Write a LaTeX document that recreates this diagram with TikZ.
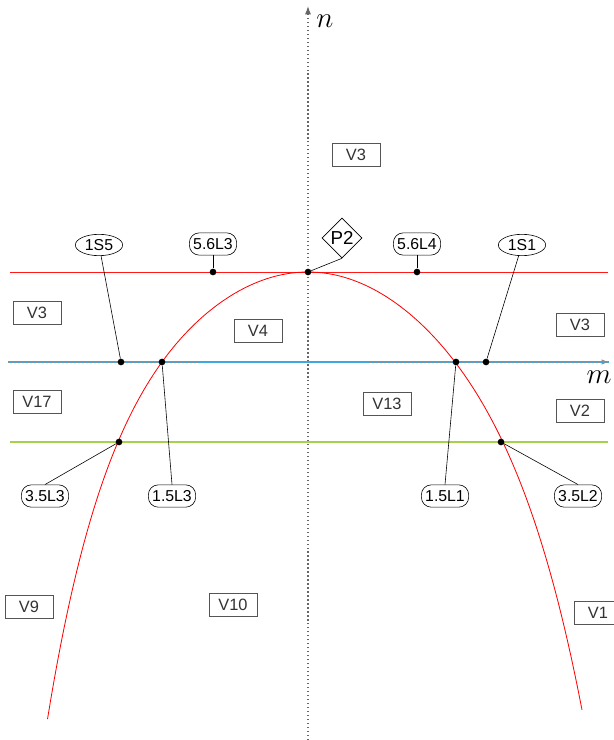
\documentclass[tikz,border=0pt]{standalone}
\usepackage{fontspec}
\setmainfont{Liberation Sans}
\usetikzlibrary{shapes.geometric,arrows.meta}
\definecolor{lineblue}{HTML}{3DA9E0}
\definecolor{linegreen}{HTML}{A8D04A}
\definecolor{boxgray}{HTML}{555555}

\begin{document}
\begin{tikzpicture}[x=0.03cm,y=-0.03cm,
  region/.style={draw=boxgray,line width=0.6pt,minimum width=1.44cm,minimum height=0.68cm,inner sep=0pt,text=black!80,font=\fontsize{14}{14}\selectfont},
  pill/.style={draw,line width=0.5pt,rounded corners=0.3cm,minimum width=1.42cm,minimum height=0.67cm,inner sep=0pt,font=\fontsize{13.5}{13.5}\selectfont},
  oval/.style={draw,ellipse,line width=0.5pt,minimum width=1.42cm,minimum height=0.64cm,inner sep=0pt,font=\fontsize{13.5}{13.5}\selectfont},
  dot/.style={circle,fill,inner sep=0pt,minimum size=0.2cm},
  lead/.style={line width=0.5pt},
  axisdot/.style={gray!80!black,line width=0.9pt,dash pattern=on 1.1pt off 2.3pt}]
\useasboundingbox (0,0) rectangle (613,740);

% 坐标轴
\coordinate (nlow) at (308,740);
\coordinate (ntop) at (308,6);
\draw[axisdot,-{Latex[length=0.25cm,width=0.18cm]}] (nlow) -- (ntop);
\node (nlab) at (325,21) {\fontsize{28}{28}\selectfont$n$};

% 三条水平线
\coordinate (r1) at (10,272);
\coordinate (r2) at (608,272);
\draw[red!90!white,line width=0.8pt] (r1) -- (r2);
\coordinate (b1) at (8,362);
\coordinate (b2) at (609,362);
\draw[lineblue,line width=1.6pt] (b1) -- (b2);
\draw[axisdot,black!45,line width=0.7pt,-{Latex[length=0.22cm,width=0.16cm,fill=lineblue]}] (b1) -- (b2);
\node (mlab) at (599,377) {\fontsize{28}{28}\selectfont$m$};
\coordinate (g1) at (10,442);
\coordinate (g2) at (608,442);
\draw[linegreen,line width=0.9pt] (g1) -- (g2);

% 曲线
\draw[red,line width=0.7pt] plot[domain=0:2.605,samples=80] ({308-100*\x},{272+39.63*\x*\x+0.570*\x^6});
\draw[red,line width=0.7pt] plot[domain=0:2.74,samples=80] ({308+100*\x},{272+40.14*\x*\x+0.3228*\x^6});

% 区域标记
\node[region] (v3a) at (356,155) {V3};
\node[region] (v3b) at (37,313) {V3};
\node[region] (v4) at (258,331) {V4};
\node[region] (v3c) at (580,325) {V3};
\node[region] (v17) at (37,402) {V17};
\node[region] (v13) at (387,404) {V13};
\node[region] (v2) at (580,411) {V2};
\node[region] (v9) at (29,607) {V9};
\node[region] (v10) at (233,605) {V10};
\node[region] (v1) at (598,613) {V1};

% 交点
\node[dot] (dp2) at (308,272) {};
\node[dot] (d56l3) at (213,272) {};
\node[dot] (d56l4) at (417,272) {};
\node[dot] (d1s5) at (121,362) {};
\node[dot] (d15l3) at (162,362) {};
\node[dot] (d15l1) at (456,362) {};
\node[dot] (d1s1) at (486,362) {};
\node[dot] (d35l3) at (119,442) {};
\node[dot] (d35l2) at (501,442) {};

% 标签
\node[draw,diamond,line width=0.5pt,minimum width=1.2cm,minimum height=1.2cm,inner sep=0pt,font=\fontsize{16}{16}\selectfont] (p2) at (342,238) {P2};
\node[pill] (l56l3) at (213,244) {5.6L3};
\node[pill] (l56l4) at (417,244) {5.6L4};
\node[oval] (l1s5) at (99,245) {1S5};
\node[oval] (l1s1) at (522,245) {1S1};
\node[pill] (l15l3) at (172,496) {1.5L3};
\node[pill] (l15l1) at (445,496) {1.5L1};
\node[pill] (l35l3) at (45,496) {3.5L3};
\node[pill] (l35l2) at (578,496) {3.5L2};

\draw[lead] (p2.south) -- (dp2);
\draw[lead] (l56l3) -- (d56l3);
\draw[lead] (l56l4) -- (d56l4);
\draw[lead] (l1s5) -- (d1s5);
\draw[lead] (l1s1) -- (d1s1);
\draw[lead] (l15l3.north) -- (d15l3);
\draw[lead] (l15l1.north) -- (d15l1);
\draw[lead] (l35l3.north) -- (d35l3);
\draw[lead] (l35l2.north) -- (d35l2);
\end{tikzpicture}
\end{document}
